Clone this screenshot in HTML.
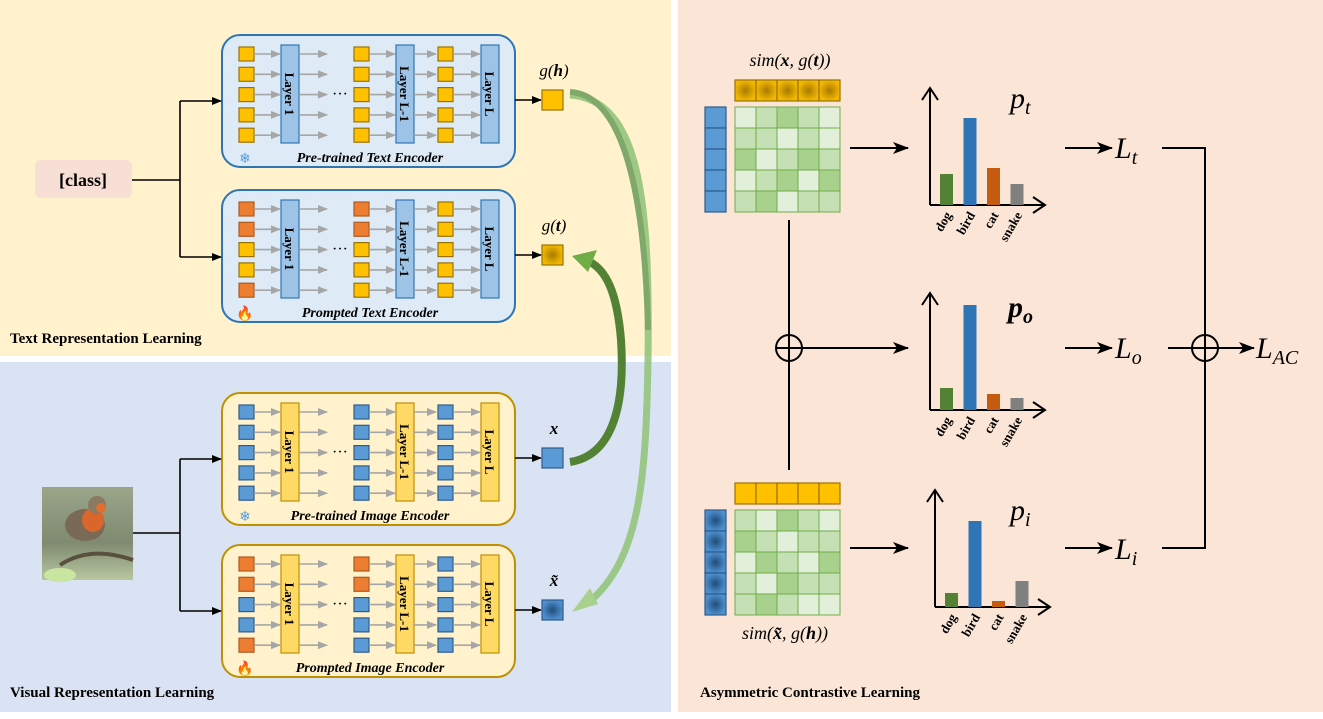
<!DOCTYPE html>
<html><head><meta charset="utf-8"><style>
html,body{margin:0;padding:0;background:#fff;}
svg{display:block;font-family:"Liberation Serif",serif;}
</style></head><body>
<svg id="s" width="1323" height="719" viewBox="0 0 1323 719" xmlns="http://www.w3.org/2000/svg">
<defs>
<marker id="ah" markerWidth="10" markerHeight="8" refX="9" refY="4" orient="auto" markerUnits="userSpaceOnUse"><path d="M0,0 L10,4 L0,8 z" fill="#000"/></marker>
<marker id="ab" markerWidth="16" markerHeight="12" refX="15" refY="6" orient="auto" markerUnits="userSpaceOnUse"><path d="M0,0 L16,6 L0,12 L4,6 z" fill="#000"/></marker>
<marker id="ag" markerWidth="10" markerHeight="8" refX="9" refY="4" orient="auto" markerUnits="userSpaceOnUse"><path d="M0,0 L10,4 L0,8 z" fill="#a6a6a6"/></marker>
<radialGradient id="og"><stop offset="0" stop-color="#a87a00"/><stop offset="1" stop-color="#f2b800"/></radialGradient>
<radialGradient id="bg"><stop offset="0" stop-color="#1f4e79"/><stop offset="1" stop-color="#4f8fcf"/></radialGradient>
<linearGradient id="bird" x1="0" y1="0" x2="0" y2="1"><stop offset="0" stop-color="#9aa58a"/><stop offset="0.6" stop-color="#7f8a70"/><stop offset="1" stop-color="#b8c6a0"/></linearGradient>
</defs>
<rect x="0" y="0" width="671" height="356" fill="#fff2cc"/>
<rect x="0" y="362" width="671" height="350" fill="#dae3f3"/>
<rect x="678" y="0" width="645" height="712" fill="#fbe5d6"/>
<g id="g"></g>
</svg>
<script>
var h='';
function enc(y,fill,stroke,tok,label,prompted,fire){
 h+='<rect x="222" y="'+y+'" width="293" height="132" rx="18" fill="'+fill+'" stroke="'+stroke+'" stroke-width="2"/>';
 var bar=(fill=='#deebf7')?['#9dc3e6','#2e75b6']:['#ffd966','#bf9000'];
 [281,396,481].forEach(function(bx,i){
  h+='<rect x="'+bx+'" y="'+(y+10)+'" width="18" height="98" fill="'+bar[0]+'" stroke="'+bar[1]+'" stroke-width="1.2"/>';
  var t=['Layer 1','Layer L-1','Layer L'][i];
  h+='<text transform="translate('+(bx+4)+','+(y+59)+') rotate(90)" text-anchor="middle" font-size="13" font-weight="bold">'+t+'</text>';
 });
 [239,354,438].forEach(function(sx,ci){
  for(var r=0;r<5;r++){
   var yy=y+12+r*20.3;
   var c=tok(r,ci);
   h+='<rect x="'+sx+'" y="'+yy+'" width="15" height="14" fill="'+c[0]+'" stroke="'+c[1]+'" stroke-width="1.2"/>';
   var bx=[281,396,481][ci];
   h+='<line x1="'+(sx+15)+'" y1="'+(yy+7)+'" x2="'+(bx-1)+'" y2="'+(yy+7)+'" stroke="#a6a6a6" stroke-width="1.6" marker-end="url(#ag)"/>';
   if(ci<2){var nx=ci==0?327:436;h+='<line x1="'+(bx+18)+'" y1="'+(yy+7)+'" x2="'+nx+'" y2="'+(yy+7)+'" stroke="#a6a6a6" stroke-width="1.6" marker-end="url(#ag)"/>';}
  }
 });
 h+='<text x="340" y="'+(y+64)+'" font-size="16" text-anchor="middle">···</text>';
 h+='<text x="370" y="'+(y+127)+'" font-size="14" font-weight="bold" font-style="italic" text-anchor="middle">'+label+'</text>';
 if(fire) h+='<text x="245" y="'+(y+128)+'" font-size="14" fill="#ff2a00" text-anchor="middle">&#x1F525;</text>';
 else h+='<text x="245" y="'+(y+128)+'" font-size="14" fill="#5b9bd5" text-anchor="middle">❄</text>';
}
var Y=['#ffc000','#997300'],O=['#ed7d31','#ae5a21'],B=['#5b9bd5','#2e5c8a'];
enc(35,'#deebf7','#2e75b6',function(){return Y;},'Pre-trained Text Encoder',0,0);
enc(190,'#deebf7','#2e75b6',function(r,c){return (c<2&&r<2)||(c==0&&r==4)?O:Y;},'Prompted Text Encoder',1,1);
enc(393,'#fff2cc','#bf9000',function(){return B;},'Pre-trained Image Encoder',0,0);
enc(545,'#fff2cc','#bf9000',function(r,c){return (c<2&&r<2)||(c==0&&r==4)?O:B;},'Prompted Image Encoder',1,1);
// class box
h+='<rect x="35" y="160" width="97" height="38" rx="6" fill="#f8dfd5"/>';
h+='<text x="83" y="186" font-size="18" font-weight="bold" text-anchor="middle">[class]</text>';
h+='<path d="M132,180 H180 M180,101 V257" stroke="#000" stroke-width="1.6" fill="none"/>';
h+='<line x1="180" y1="101" x2="221" y2="101" stroke="#000" stroke-width="1.6" marker-end="url(#ah)"/>';
h+='<line x1="180" y1="257" x2="221" y2="257" stroke="#000" stroke-width="1.6" marker-end="url(#ah)"/>';
// bird
h+='<rect x="42" y="487" width="91" height="93" fill="url(#bird)"/>';
h+='<ellipse cx="85" cy="525" rx="20" ry="16" fill="#7a6a55"/><ellipse cx="93" cy="520" rx="11" ry="12" fill="#d9662a"/><circle cx="97" cy="505" r="9" fill="#8a7a62"/><circle cx="101" cy="508" r="5" fill="#e07030"/><path d="M60,565 Q90,545 133,560" stroke="#5a5040" stroke-width="4" fill="none"/><ellipse cx="60" cy="575" rx="16" ry="7" fill="#c8e6a0"/>';
h+='<path d="M133,533 H180 M180,459 V611" stroke="#000" stroke-width="1.6" fill="none"/>';
h+='<line x1="180" y1="459" x2="221" y2="459" stroke="#000" stroke-width="1.6" marker-end="url(#ah)"/>';
h+='<line x1="180" y1="611" x2="221" y2="611" stroke="#000" stroke-width="1.6" marker-end="url(#ah)"/>';
// outputs
function outp(y,fill,stroke,lab){
 h+='<line x1="515" y1="'+y+'" x2="541" y2="'+y+'" stroke="#000" stroke-width="1.6" marker-end="url(#ah)"/>';
 h+='<rect x="542" y="'+(y-10)+'" width="21" height="20" fill="'+fill+'" stroke="'+stroke+'" stroke-width="1.2"/>';
 h+='<text x="554" y="'+(y-24)+'" font-size="17" font-style="italic" text-anchor="middle">'+lab+'</text>';
}
outp(100,'#ffc000','#997300','g(<tspan font-weight="bold">h</tspan>)');
outp(255,'url(#og)','#997300','g(<tspan font-weight="bold">t</tspan>)');
outp(458,'#5b9bd5','#2e5c8a','<tspan font-weight="bold">x</tspan>');
outp(610,'url(#bg)','#2e5c8a','<tspan font-weight="bold">x̃</tspan>');
// green curves
h+='<path d="M570,95 C640,100 650,200 648,360 C646,480 640,560 588,603" stroke="#93c47d" stroke-width="7" fill="none" opacity="0.9"/>';
h+='<path d="M570,92 C625,95 645,200 648,330" stroke="#7fa86a" stroke-width="6" fill="none"/>';
h+='<polygon points="572,612 590,588 598,604" fill="#a9d18e"/>';
h+='<path d="M570,462 C615,455 625,400 621,340 C617,290 605,270 590,262" stroke="#548235" stroke-width="8" fill="none"/>';
h+='<polygon points="572,256 597,250 588,272" fill="#70ad47"/>';
// titles
h+='<text x="10" y="343" font-size="15" font-weight="bold">Text Representation Learning</text>';
h+='<text x="10" y="697" font-size="15" font-weight="bold">Visual Representation Learning</text>';
h+='<text x="700" y="697" font-size="15" font-weight="bold">Asymmetric Contrastive Learning</text>';
// right
var L='#e2efda',M='#c5e0b4',D='#a9d18e';
function mat(y0,pat){
 for(var r=0;r<5;r++)for(var c=0;c<5;c++){
  h+='<rect x="'+(735+c*21)+'" y="'+(y0+r*21)+'" width="21" height="21" fill="'+pat[r][c]+'" stroke="#70ad47" stroke-width="1"/>';
 }
}
function col(y0,fill){for(var r=0;r<5;r++)h+='<rect x="705" y="'+(y0+r*21)+'" width="21" height="21" fill="'+fill+'" stroke="#2e5c8a" stroke-width="1.2"/>';}
function row(y0,fill){for(var c=0;c<5;c++)h+='<rect x="'+(735+c*21)+'" y="'+y0+'" width="21" height="21" fill="'+fill+'" stroke="#997300" stroke-width="1.2"/>';}
row(80,'url(#og)');col(107,'#5b9bd5');
mat(107,[[L,M,D,M,L],[M,M,L,M,L],[D,L,M,D,M],[L,M,D,L,D],[M,D,L,M,M]]);
h+='<text x="790" y="66" font-size="18" font-style="italic" text-anchor="middle">sim(<tspan font-weight="bold">x</tspan>, g(<tspan font-weight="bold">t</tspan>))</text>';
row(483,'#ffc000');col(510,'url(#bg)');
mat(510,[[M,L,D,M,L],[D,M,L,M,M],[L,D,M,L,D],[M,L,D,M,M],[M,D,M,L,L]]);
h+='<text x="785" y="639" font-size="18" font-style="italic" text-anchor="middle">sim(<tspan font-weight="bold">x̃</tspan>, g(<tspan font-weight="bold">h</tspan>))</text>';
function arr(x1,y,x2){h+='<line x1="'+x1+'" y1="'+y+'" x2="'+x2+'" y2="'+y+'" stroke="#000" stroke-width="2" marker-end="url(#ab)"/>';}
function chart(ax,top,base,bars,lab){
 h+='<path d="M'+ax+','+(base)+' V'+top+' M'+(ax-8)+','+(top+12)+' L'+ax+','+top+' L'+(ax+8)+','+(top+12)+'" stroke="#000" stroke-width="2" fill="none"/>';
 h+='<path d="M'+ax+','+base+' H'+(ax+115)+' M'+(ax+103)+','+(base-8)+' L'+(ax+115)+','+base+' L'+(ax+103)+','+(base+8)+'" stroke="#000" stroke-width="2" fill="none"/>';
 var cols=['#548235','#2e75b6','#c55a11','#808080'],names=['dog','bird','cat','snake'];
 for(var i=0;i<4;i++){var bx=ax+10+i*23.5;h+='<rect x="'+bx+'" y="'+bars[i]+'" width="13" height="'+(base-bars[i])+'" fill="'+cols[i]+'"/>';
  h+='<text transform="translate('+(bx+12)+','+(base+10)+') rotate(-60)" text-anchor="end" font-size="13" font-weight="bold">'+names[i]+'</text>';}
 h+=lab;
}
arr(850,148,908);arr(802,348,908);arr(850,548,908);
chart(930,88,205,[174,118,168,184],'<text x="1010" y="108" font-size="30" font-style="italic">p<tspan font-size="20" dy="6">t</tspan></text>');
chart(930,293,410,[388,305,394,398],'<text x="1008" y="317" font-size="30" font-style="italic" font-weight="bold">p<tspan font-size="20" dy="6">o</tspan></text>');
chart(935,490,607,[593,521,601,581],'<text x="1010" y="520" font-size="30" font-style="italic">p<tspan font-size="20" dy="6">i</tspan></text>');
h+='<line x1="789" y1="220" x2="789" y2="470" stroke="#000" stroke-width="2"/>';
h+='<circle cx="789" cy="348" r="13" fill="none" stroke="#000" stroke-width="2"/><path d="M776,348 H802 M789,335 V361" stroke="#000" stroke-width="2"/>';
arr(1065,148,1112);arr(1065,348,1112);arr(1065,548,1112);
function Lt(y,s){h+='<text x="1115" y="'+y+'" font-size="30" font-style="italic">L<tspan font-size="20" dy="6">'+s+'</tspan></text>';}
Lt(158,'t');Lt(358,'o');Lt(559,'i');
h+='<path d="M1162,148 H1205 V548 H1162 M1168,348 H1192" stroke="#000" stroke-width="2" fill="none"/>';
h+='<circle cx="1205" cy="348" r="13" fill="#fbe5d6" stroke="#000" stroke-width="2"/><path d="M1192,348 H1218 M1205,335 V361" stroke="#000" stroke-width="2"/>';
arr(1218,348,1254);
h+='<text x="1256" y="358" font-size="30" font-style="italic">L<tspan font-size="20" dy="6">AC</tspan></text>';
document.getElementById('g').innerHTML=h;
</script>
</body></html>
